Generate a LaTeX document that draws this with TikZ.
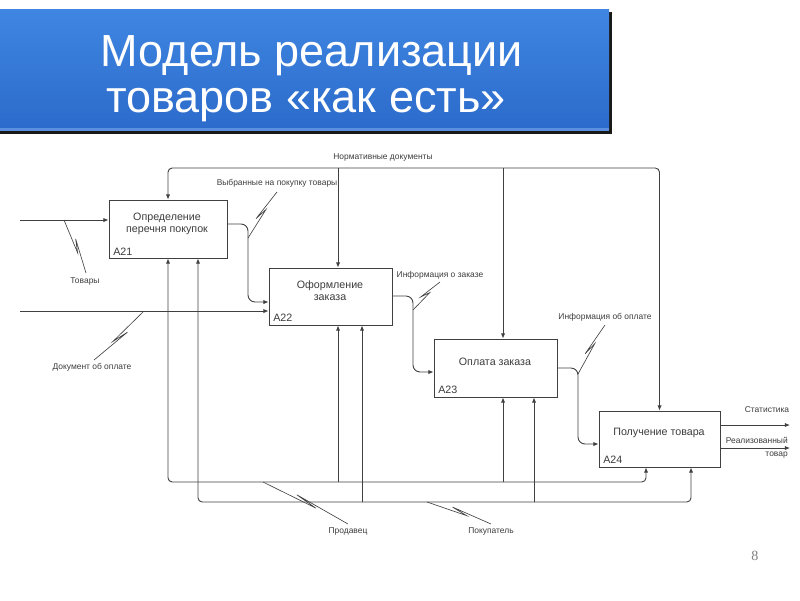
\documentclass[tikz,border=0pt]{standalone}
\usepackage{fontspec}
\setmainfont{Liberation Sans}
\newfontfamily\numfont{Liberation Serif}
\usetikzlibrary{arrows.meta,calc}
\definecolor{ln}{HTML}{404040}
\definecolor{tx}{HTML}{3C3C3C}
\definecolor{bantop}{HTML}{3F86E2}
\definecolor{banbot}{HTML}{2C6BCB}
\definecolor{banline}{HTML}{5A8FE0}
\tikzset{
  proc/.style={draw=ln, line width=0.65pt, fill=white, rectangle, inner sep=0pt},
  flow/.style={draw=ln, line width=0.65pt, -{Latex[length=3.6pt,width=3pt]}},
  bflow/.style={draw=ln, line width=0.65pt, {Latex[length=3.6pt,width=3pt]}-{Latex[length=3.6pt,width=3pt]}},
  lead/.style={draw=ln, line width=0.45pt},
  lbl/.style={font=\fontsize{6}{7}\selectfont, text=tx, inner sep=0pt},
  ptxt/.style={font=\fontsize{7.6}{8.6}\selectfont, text=tx, align=center, inner sep=0pt},
  tag/.style={font=\fontsize{7.6}{8.6}\selectfont, text=tx, anchor=base west, inner sep=0pt}
}
\newcommand{\squig}[2]{\draw[lead] (#1) -- ($(#1)!0.62!(#2)$) -- ($(#1)!0.38!(#2)!2.5pt!90:(#2)$) -- (#2);}
\begin{document}
\begin{tikzpicture}[x=0.025cm,y=-0.025cm]
\useasboundingbox (0,0) rectangle (800,600);
% banner
\fill[black!90] (0,12) rectangle (612,134);
\shade[top color=bantop, bottom color=banbot] (0,9) rectangle (609,128);
\fill[banline] (0,128) rectangle (609,130.5);
\node[font=\fontsize{32}{33}\selectfont, text=white, anchor=base] (t1) at (312,66) {Модель реализации};
\node[font=\fontsize{32}{33}\selectfont, text=white, anchor=base] (t2) at (306,112) {товаров «как есть»};
% boxes
\node[proc, minimum width=118*0.025cm, minimum height=58*0.025cm] (A21) at (168,229) {};
\node[proc, minimum width=123*0.025cm, minimum height=57*0.025cm] (A22) at (330.5,296.5) {};
\node[proc, minimum width=123*0.025cm, minimum height=58*0.025cm] (A23) at (495.5,368) {};
\node[proc, minimum width=121*0.025cm, minimum height=56*0.025cm] (A24) at (659.5,439) {};
\node[ptxt] (A21t) at (167,224) {Определение\\перечня покупок};
\node[ptxt] (A22t) at (330,291) {Оформление\\заказа};
\node[ptxt] (A23t) at (495,362) {Оплата заказа};
\node[ptxt] (A24t) at (659,433) {Получение товара};
\node[tag] (A21n) at (113,255) {A21};
\node[tag] (A22n) at (273,321.5) {A22};
\node[tag] (A23n) at (438,393) {A23};
\node[tag] (A24n) at (603,463) {A24};
% inputs
\coordinate (inT) at (20,220);
\coordinate (inD) at (20,311);
\draw[flow] (inT) -- (inT -| A21.west);
\draw[flow] (inD) -- (inD -| A22.west);
% flows between boxes
\coordinate (b1) at (248,224); \coordinate (b1d) at (248,302);
\coordinate (b2) at (413,296); \coordinate (b2d) at (413,372);
\coordinate (b3) at (578,368); \coordinate (b3d) at (578,444);
\draw[flow, rounded corners=5pt] (A21.east |- b1) -- (b1) -- (b1d) -- (A22.west |- b1d);
\draw[flow, rounded corners=5pt] (A22.east |- b2) -- (b2) -- (b2d) -- (A23.west |- b2d);
\draw[flow, rounded corners=5pt] (A23.east |- b3) -- (b3) -- (b3d) -- (A24.west |- b3d);
% outputs
\coordinate (oS) at (790,425);
\coordinate (oR) at (790,448);
\draw[flow] (A24.east |- oS) -- (oS);
\draw[flow] (A24.east |- oR) -- (oR);
% controls
\coordinate (k1) at (168,168); \coordinate (k4) at (659.5,168);
\coordinate (k2) at (338,168); \coordinate (k3) at (503,168);
\draw[bflow, rounded corners=3pt] (A21.north) -- (k1) -- (k4) -- (A24.north);
\draw[flow] (k2) -- (k2 |- A22.north);
\draw[flow] (k3) -- (k3 |- A23.north);
% mechanisms
\coordinate (p1) at (168,482); \coordinate (p2) at (646,482);
\coordinate (r1) at (198,502); \coordinate (r2) at (691,502);
\draw[bflow, rounded corners=3pt] (p1 |- A21.south) -- (p1) -- (p2) -- (p2 |- A24.south);
\draw[bflow, rounded corners=3pt] (r1 |- A21.south) -- (r1) -- (r2) -- (r2 |- A24.south);
\coordinate (q1) at (338,482); \coordinate (q2) at (503,482);
\coordinate (s1) at (362,502); \coordinate (s2) at (534,502);
\draw[flow] (q1) -- (q1 |- A22.south);
\draw[flow] (q2) -- (q2 |- A23.south);
\draw[flow] (s1) -- (s1 |- A22.south);
\draw[flow] (s2) -- (s2 |- A23.south);
% labels
\node[lbl] (Lnorm) at (383,157) {Нормативные документы};
\node[lbl] (Ltov) at (85,281) {Товары};
\node[lbl] (Ldoc) at (92,367) {Документ об оплате};
\node[lbl] (Lvyb) at (277,183) {Выбранные на покупку товары};
\node[lbl] (Lzak) at (440,275) {Информация о заказе};
\node[lbl] (Lopl) at (605,317) {Информация об оплате};
\node[lbl] (Lprod) at (348,531) {Продавец};
\node[lbl] (Lpok) at (491,531) {Покупатель};
\node[lbl] (Lstat) at (767,410) {Статистика};
\node[lbl, align=right, anchor=east, font=\fontsize{6}{9.5}\selectfont] (Lreal) at (788,448) {Реализованный\\товар};
% leaders
\coordinate (e1a) at (64,220); \coordinate (e1b) at (86,273);
\coordinate (e2a) at (144,311); \coordinate (e2b) at (94,360);
\coordinate (e3a) at (248,238); \coordinate (e3b) at (277,192);
\coordinate (e4a) at (413,310); \coordinate (e4b) at (440,282);
\coordinate (e5a) at (578,374); \coordinate (e5b) at (605,325);
\coordinate (e6a) at (263,482); \coordinate (e6b) at (348,524);
\coordinate (e7a) at (427,502); \coordinate (e7b) at (491,524);
\squig{e1a}{e1b}
\squig{e2a}{e2b}
\squig{e3a}{e3b}
\squig{e4a}{e4b}
\squig{e5a}{e5b}
\squig{e6a}{e6b}
\squig{e7a}{e7b}
% page number
\node[font=\numfont\fontsize{10}{11}\selectfont, text=black!50] (pg) at (755,556) {8};
\end{tikzpicture}
\end{document}
